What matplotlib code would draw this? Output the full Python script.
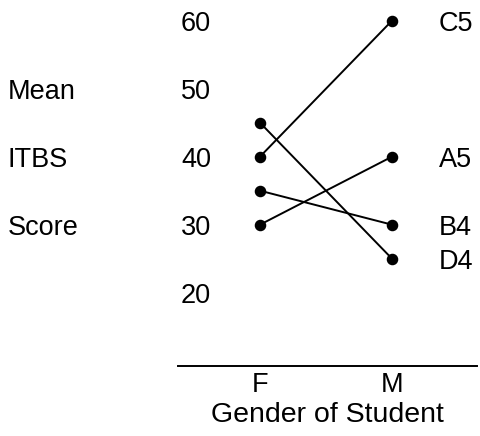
import matplotlib
matplotlib.use("Agg")
import matplotlib.pyplot as plt
import matplotlib.transforms as mtransforms

plt.rcParams['font.family'] = ['Liberation Sans', 'DejaVu Sans']

genders = ["F", "M"]
series_names = ["C5", "A5", "B4", "D4"]
series_values = {
    "C5": [40, 60],
    "A5": [30, 40],
    "B4": [35, 30],
    "D4": [45, 25],
}
y_ticks = [20, 30, 40, 50, 60]
y_label_words = ["Mean", "ITBS", "Score"]
x_title = "Gender of Student"

FS = 19.5
fig = plt.figure(figsize=(4.8, 4.36), dpi=100)
W, H = 480, 436
left, right = 178, 477
bottom_px, top_px = 366, 0
ax = fig.add_axes([left / W, 1 - bottom_px / H, (right - left) / W, (bottom_px - top_px) / H])

xpos = list(range(len(genders)))
for name in series_names:
    ax.plot(xpos, series_values[name], color='black', lw=1.4, marker='o',
            markersize=7.3, solid_capstyle='round')

ax.set_xlim(-0.621, 1.644)
ax.set_ylim(9.22, 63.04)

for s in ['top', 'right', 'left']:
    ax.spines[s].set_visible(False)
ax.spines['bottom'].set_linewidth(1.4)
ax.set_yticks([])
ax.set_xticks(xpos)
ax.set_xticklabels(genders, fontsize=FS)
ax.tick_params(axis='x', length=0, pad=4)
ax.set_xlabel(x_title, fontsize=20.5, labelpad=3)

trans = mtransforms.blended_transform_factory(fig.transFigure, ax.transData)
for v in y_ticks:
    ax.text(181 / W, v, str(v), transform=trans, fontsize=FS, ha='left', va='center_baseline')

for word, v in zip(y_label_words, y_ticks[1:4][::-1]):
    ax.text(8 / W, v, word, transform=trans, fontsize=FS, ha='left', va='center_baseline')

for name in series_names:
    ax.text(439 / W, series_values[name][1], name, transform=trans, fontsize=FS,
            ha='left', va='center_baseline')

fig.savefig("out.png", dpi=100)
